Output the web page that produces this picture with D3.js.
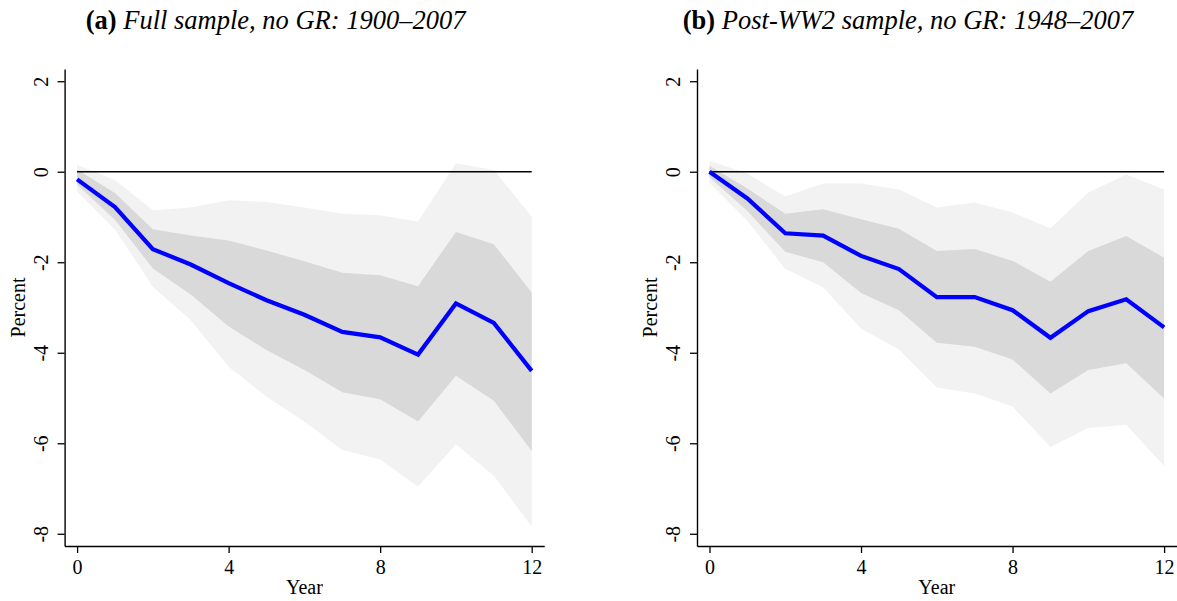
<!DOCTYPE html>
<html>
<head>
<meta charset="utf-8">
<script src="https://cdn.jsdelivr.net/npm/d3@7"></script>
<style>
  html, body { margin: 0; padding: 0; background: #fff; }
  svg { display: block; font-family: "Liberation Serif", "Times New Roman", serif; }
</style>
</head>
<body>
<svg id="chart" width="1177" height="601"></svg>
<script>
// ---------- data ----------
const years = [0,1,2,3,4,5,6,7,8,9,10,11,12];
const xTicks = [0,4,8,12];
const yTicks = [2,0,-2,-4,-6,-8];

// Panel (a): Full sample, no GR: 1900–2007
const aIrf    = [-0.17,-0.78,-1.71,-2.05,-2.46,-2.84,-3.16,-3.54,-3.66,-4.04,-2.91,-3.34,-4.40];
const aInHi   = [ 0.05,-0.47,-1.27,-1.41,-1.52,-1.74,-1.98,-2.23,-2.29,-2.53,-1.33,-1.60,-2.67];
const aInLo   = [-0.29,-1.06,-2.14,-2.71,-3.42,-3.94,-4.38,-4.87,-5.03,-5.52,-4.51,-5.06,-6.17];
const aOutHi  = [ 0.15,-0.18,-0.85,-0.79,-0.63,-0.67,-0.79,-0.93,-0.96,-1.10, 0.19, 0.04,-0.99];
const aOutLo  = [-0.44,-1.28,-2.54,-3.28,-4.31,-4.97,-5.52,-6.15,-6.36,-6.96,-6.02,-6.72,-7.84];

// Panel (b): Post-WW2 sample, no GR: 1948–2007
const bIrf    = [ 0.00,-0.59,-1.36,-1.41,-1.86,-2.15,-2.77,-2.77,-3.06,-3.67,-3.08,-2.82,-3.44];
const bInHi   = [ 0.13,-0.37,-0.93,-0.83,-1.05,-1.26,-1.75,-1.71,-1.97,-2.43,-1.75,-1.42,-1.90];
const bInLo   = [-0.12,-0.87,-1.77,-2.00,-2.68,-3.06,-3.78,-3.87,-4.15,-4.90,-4.38,-4.23,-5.01];
const bOutHi  = [ 0.24,-0.04,-0.55,-0.26,-0.26,-0.39,-0.79,-0.68,-0.90,-1.25,-0.46,-0.06,-0.39];
const bOutLo  = [-0.25,-1.09,-2.15,-2.55,-3.47,-3.93,-4.77,-4.90,-5.19,-6.08,-5.66,-5.59,-6.50];

const panels = [
  { bold: "(a)", italic: " Full sample, no GR: 1900\u20132007",
    irf: aIrf, inHi: aInHi, inLo: aInLo, outHi: aOutHi, outLo: aOutLo },
  { bold: "(b)", italic: " Post-WW2 sample, no GR: 1948\u20132007",
    irf: bIrf, inHi: bInHi, inLo: bInLo, outHi: bOutHi, outLo: bOutLo }
];

// ---------- layout ----------
const svg = d3.select("#chart");
const panelOffset = 632.4;
const plotLeft = 64.6, plotRight = 544.2, plotTop = 69, plotBottom = 546;
const xDomain = [-0.33, 12.33];
const yDomain = [-8.27, 2.27];
const tickFont = "20px";
const labelFont = "20px";
const fmt = d => String(d);   // plain hyphen-minus, as in the reference

panels.forEach((p, k) => {
  const ox = k * panelOffset;
  const x = d3.scaleLinear().domain(xDomain).range([plotLeft + ox, plotRight + ox]);
  const y = d3.scaleLinear().domain(yDomain).range([plotBottom, plotTop]);
  const g = svg.append("g");

  const band = (hi, lo) => d3.area()
    .x((d, i) => x(years[i]))
    .y0((d, i) => y(lo[i]))
    .y1((d, i) => y(hi[i]));

  // outer band
  g.append("path").datum(years)
    .attr("d", band(p.outHi, p.outLo))
    .attr("fill", "#f2f2f2");
  // inner band
  g.append("path").datum(years)
    .attr("d", band(p.inHi, p.inLo))
    .attr("fill", "#d9d9d9");

  // zero line
  g.append("line")
    .attr("x1", x(years[0])).attr("x2", x(years[years.length - 1]))
    .attr("y1", y(0)).attr("y2", y(0))
    .attr("stroke", "#000").attr("stroke-width", 1.5);

  // IRF line
  g.append("path").datum(p.irf)
    .attr("d", d3.line().x((d, i) => x(years[i])).y(d => y(d)))
    .attr("fill", "none")
    .attr("stroke", "#0000ff")
    .attr("stroke-width", 4.2)
    .attr("stroke-linejoin", "miter");

  // axes
  const yAxis = g.append("g")
    .attr("transform", `translate(${plotLeft + ox},0)`)
    .call(d3.axisLeft(y).tickValues(yTicks).tickSize(7).tickSizeOuter(0).tickFormat(fmt));
  yAxis.selectAll("text")
    .attr("transform", "rotate(-90)")
    .attr("x", 0).attr("y", -17).attr("dy", 0)
    .attr("text-anchor", "middle")
    .style("font-size", tickFont)
    .style("font-family", "Liberation Serif")
    .attr("fill", "#000");

  const xAxis = g.append("g")
    .attr("transform", `translate(0,${plotBottom})`)
    .call(d3.axisBottom(x).tickValues(xTicks).tickSize(7).tickSizeOuter(0).tickFormat(fmt));
  xAxis.selectAll("text")
    .attr("y", 28).attr("dy", 0)
    .style("font-size", tickFont)
    .style("font-family", "Liberation Serif")
    .attr("fill", "#000");

  [yAxis, xAxis].forEach(a => {
    a.select(".domain").attr("stroke", "#000").attr("stroke-width", 1.4);
    a.selectAll(".tick line").attr("stroke", "#000").attr("stroke-width", 1.3);
  });

  // axis titles
  g.append("text")
    .attr("transform", `translate(${25 + ox},${(plotTop + plotBottom) / 2}) rotate(-90)`)
    .attr("text-anchor", "middle")
    .style("font-size", labelFont)
    .text("Percent");

  g.append("text")
    .attr("x", (plotLeft + plotRight) / 2 + ox)
    .attr("y", 594)
    .attr("text-anchor", "middle")
    .style("font-size", labelFont)
    .text("Year");

  // panel title
  const t = g.append("text")
    .attr("x", 275.6 + ox)
    .attr("y", 29)
    .attr("text-anchor", "middle")
    .style("font-size", "26.5px");
  t.append("tspan").attr("font-weight", "bold").text(p.bold);
  t.append("tspan").attr("font-style", "italic").text(p.italic);
});
</script>
</body>
</html>
